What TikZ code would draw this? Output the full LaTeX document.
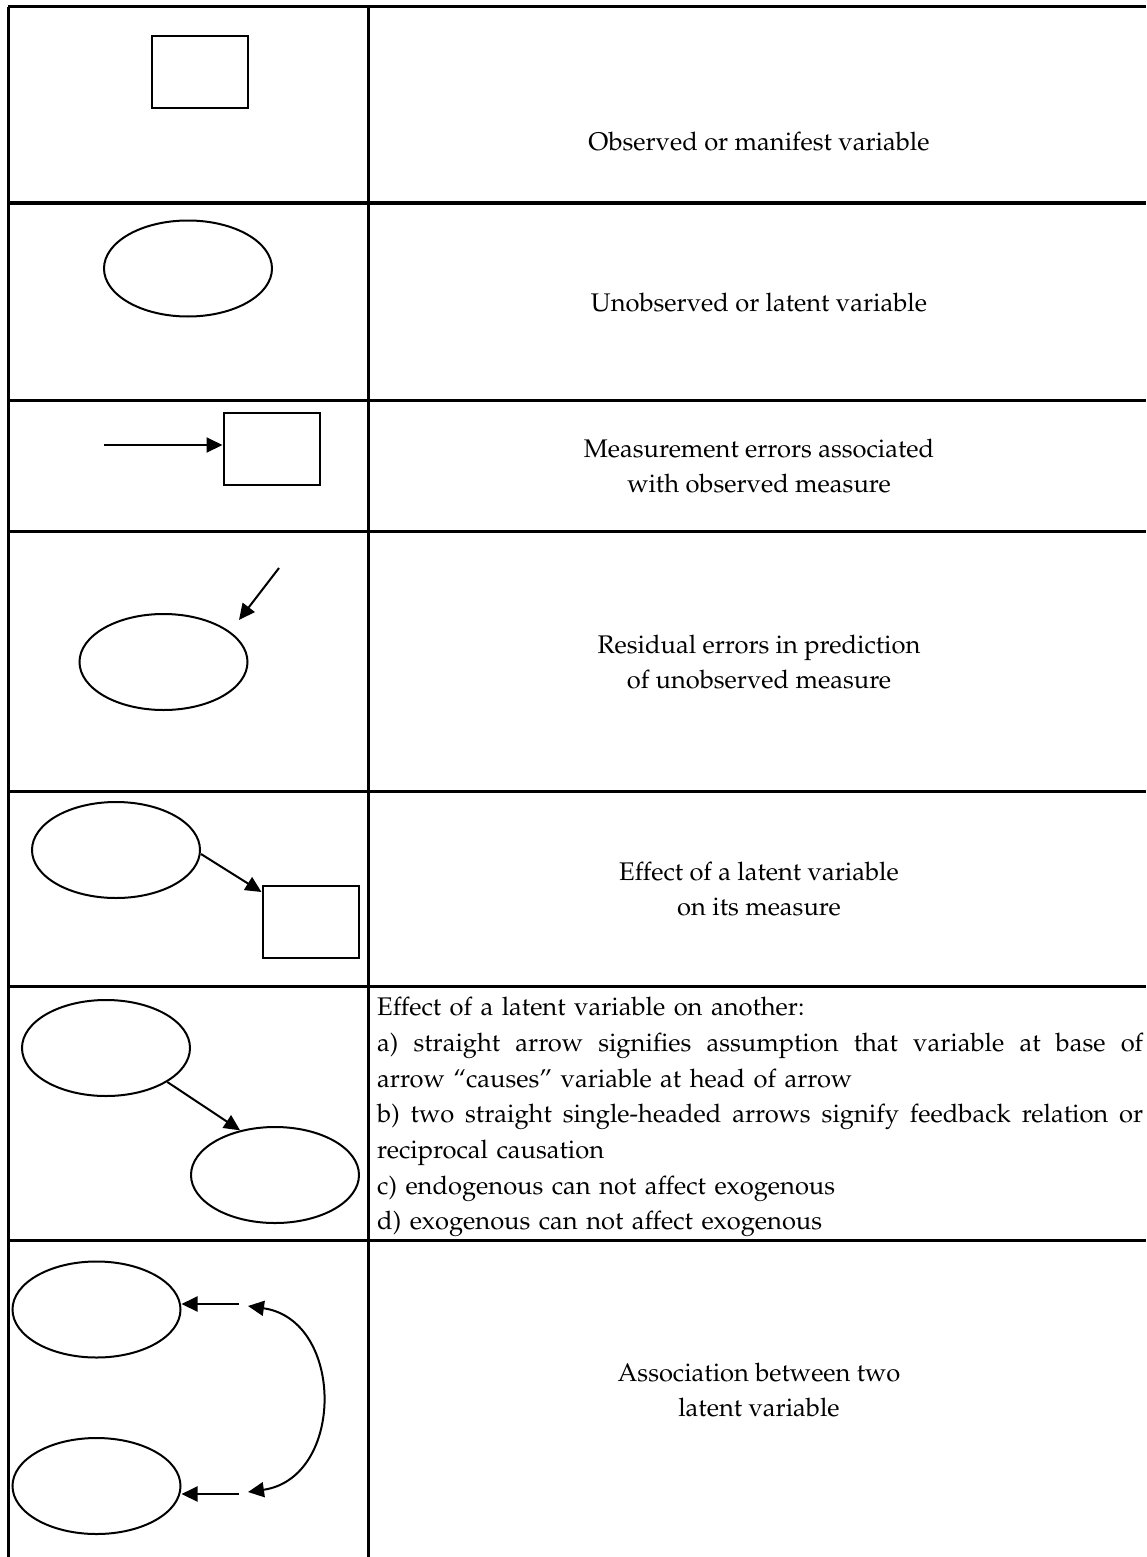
\documentclass[tikz,border=0pt]{standalone}
\usepackage[T1]{fontenc}
\usepackage{mathpazo}
\usetikzlibrary{shapes.geometric,arrows.meta}
\newcommand{\gap}{\hspace{6pt plus 1fill}}
\begin{document}
\begin{tikzpicture}[x=1pt,y=-1pt,
  rule/.style={line width=3pt},
  obs/.style={draw,line width=2pt,rectangle,inner sep=0pt,minimum width=96pt,minimum height=72pt},
  lat/.style={draw,line width=2pt,ellipse,inner sep=0pt,minimum width=168pt,minimum height=96pt},
  arr/.style={line width=2pt,-{Triangle[length=16pt,width=15pt]}},
  dblarr/.style={line width=2pt,{Triangle[length=16pt,width=15pt]}-{Triangle[length=16pt,width=15pt]}},
  txt/.style={font=\fontsize{25.5}{35.7}\selectfont,align=center,inner sep=0pt},
]
\useasboundingbox (0,0) rectangle (1146,1557);

% table rules
\draw[rule] (8,7) -- (1146,7);
\draw[rule] (8,7) -- (8,1557);
\draw[rule] (368,7) -- (368,1557);
\foreach \yy in {203,400,531,791,986,1240}
  \draw[rule] (8,\yy) -- (1146,\yy);

% row 1: observed variable
\node[obs] (r1) at (200,72) {};
\node[txt] (t1) at (759,142) {Observed or manifest variable};

% row 2: latent variable
\node[lat] (e2) at (188,268.5) {};
\node[txt] (t2) at (759,303) {Unobserved or latent variable};

% row 3: measurement error
\node[obs] (r3) at (271.5,449) {};
\coordinate (m3) at (104,445);
\draw[arr] (m3) -- (m3 -| r3.west);
\node[txt] (t3) at (759,466) {Measurement errors associated\\with observed measure};

% row 4: residual error
\node[lat] (e4) at (163.5,662) {};
\coordinate (d4a) at (279,568);
\coordinate (d4b) at (239,620);
\draw[arr] (d4a) -- (d4b);
\node[txt] (t4) at (759,662) {Residual errors in prediction\\of unobserved measure};

% row 5: latent variable and its measure
\node[lat] (e5) at (116,850) {};
\node[obs] (r5) at (310.5,922) {};
\draw[arr] (e5.east) ++(0,4) -- ([yshift=-7pt]r5.north west);
\node[txt] (t5) at (759,889) {Effect of a latent variable\\on its measure};

% row 6: latent variable on another
\node[lat] (e6a) at (106,1048) {};
\node[lat] (e6b) at (275,1175) {};
\draw[arr] (e6a.-29) -- (e6b.128);
\node[anchor=north west,inner sep=0pt,text width=766pt,align=left,
      font=\fontsize{25.5}{35.7}\selectfont] (t6) at (377,997) {%
Effect of a latent variable on another:\\
\leavevmode\hbox to 766pt{a)\gap straight\gap arrow\gap signifies\gap assumption\gap that\gap variable\gap at\gap base\gap of}\\
arrow ``causes'' variable at head of arrow\\
\leavevmode\hbox to 766pt{b)\gap two\gap straight\gap single-headed\gap arrows\gap signify\gap feedback\gap relation\gap or}\\
reciprocal causation\\
c) endogenous can not affect exogenous\\
d) exogenous can not affect exogenous};

% row 7: association between two latent variables
\node[lat] (e7a) at (96.5,1309.5) {};
\node[lat] (e7b) at (96.5,1486) {};
\coordinate (s7a) at (239,1304);
\coordinate (s7b) at (239,1494);
\draw[arr] (s7a) -- (s7a -| e7a.east);
\draw[arr] (s7b) -- (s7b -| e7b.east);
\coordinate (c7a) at (248,1306);
\coordinate (c7b) at (248,1492);
\draw[dblarr] (c7a) .. controls (345,1320) and (345,1478) .. (c7b);
\node[txt] (t7) at (759,1390) {Association between two\\latent variable};
\end{tikzpicture}
\end{document}
